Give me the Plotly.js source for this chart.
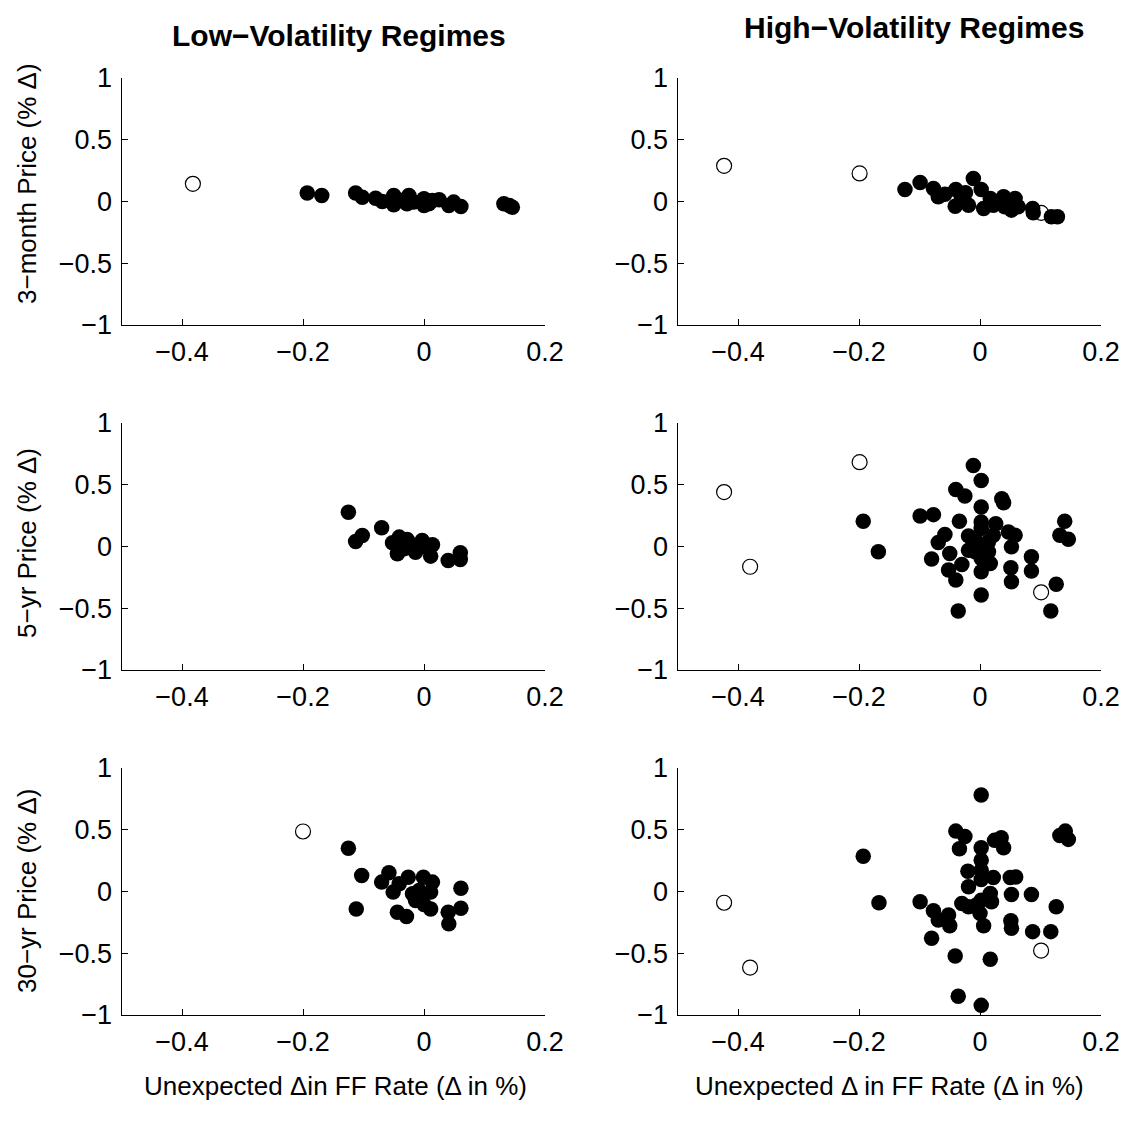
<!DOCTYPE html>
<html>
<head>
<meta charset="utf-8">
<script src="https://cdn.plot.ly/plotly-3.0.1.min.js"></script>
<style>html,body{margin:0;padding:0;background:#fff;}#chart{width:1127px;height:1121px;}</style>
</head>
<body>
<div id="chart"></div>
<script>
// ---------- data ----------
const columnTitles = ["Low\u2212Volatility Regimes", "High\u2212Volatility Regimes"];
const rowTitles = ["3\u2212month Price (% \u0394)", "5\u2212yr Price (% \u0394)", "30\u2212yr Price (% \u0394)"];
const xTitles = ["Unexpected \u0394in FF Rate (\u0394 in %)", "Unexpected \u0394 in FF Rate (\u0394 in %)"];
const xTickVals = [-0.4, -0.2, 0, 0.2];
const yTickVals = [-1, -0.5, 0, 0.5, 1];

// Low volatility, 3-month
const low3mOpenX = [-0.382];
const low3mOpenY = [0.143];
const low3mX = [-0.193, -0.169, -0.113, -0.102, -0.080, -0.069, -0.050, -0.050, -0.039, -0.025, -0.028, -0.017, 0.000, 0.000, 0.008, 0.014, 0.025, 0.041, 0.049, 0.061, 0.132, 0.141, 0.146];
const low3mY = [0.068, 0.049, 0.068, 0.035, 0.027, 0.000, 0.049, -0.027, 0.008, 0.049, -0.019, -0.005, 0.022, -0.032, -0.019, 0.008, 0.014, -0.032, -0.005, -0.041, -0.019, -0.032, -0.046];

// High volatility, 3-month
const high3mOpenX = [-0.423, -0.199, 0.101];
const high3mOpenY = [0.289, 0.227, -0.092];
const high3mX = [-0.124, -0.099, -0.077, -0.069, -0.058, -0.040, -0.041, -0.031, -0.024, -0.019, -0.011, 0.002, 0.006, 0.017, 0.022, 0.039, 0.041, 0.052, 0.058, 0.063, 0.087, 0.088, 0.118, 0.128];
const high3mY = [0.097, 0.154, 0.105, 0.038, 0.059, 0.097, -0.038, 0.038, 0.070, -0.030, 0.186, 0.097, -0.057, 0.024, -0.030, 0.038, -0.043, -0.070, 0.024, -0.043, -0.057, -0.092, -0.124, -0.124];

// Low volatility, 5-yr
const low5yOpenX = [];
const low5yOpenY = [];
const low5yX = [-0.125, -0.113, -0.102, -0.070, -0.052, -0.041, -0.044, -0.028, -0.033, -0.017, -0.014, -0.003, 0.003, 0.014, 0.011, 0.040, 0.060, 0.060];
const low5yY = [0.278, 0.041, 0.089, 0.151, 0.030, 0.076, -0.059, 0.057, -0.019, 0.008, -0.046, 0.049, -0.005, 0.014, -0.078, -0.114, -0.051, -0.105];

// High volatility, 5-yr
const high5yOpenX = [-0.423, -0.380, -0.199, 0.101];
const high5yOpenY = [0.441, -0.164, 0.683, -0.371];
const high5yX = [-0.193, -0.168, -0.099, -0.077, -0.069, -0.058, -0.080, -0.050, -0.052, -0.040, -0.036, -0.040, -0.025, -0.034, -0.030, -0.019, -0.019, -0.011, 0.002, 0.002, 0.002, 0.002, -0.006, -0.008, 0.002, 0.002, 0.002, 0.002, 0.014, 0.017, 0.022, 0.026, 0.014, 0.036, 0.039, 0.047, 0.058, 0.052, 0.051, 0.052, 0.085, 0.085, 0.126, 0.117, 0.140, 0.132, 0.146];
const high5yY = [0.204, -0.043, 0.247, 0.258, 0.032, 0.097, -0.102, -0.056, -0.191, -0.272, -0.522, 0.462, 0.409, 0.204, -0.145, 0.086, -0.030, 0.656, 0.535, 0.320, 0.199, 0.145, 0.038, -0.043, -0.003, -0.097, -0.204, -0.392, 0.038, -0.137, 0.091, 0.185, -0.043, 0.387, 0.355, 0.118, 0.091, -0.003, -0.172, -0.285, -0.083, -0.199, -0.306, -0.522, 0.204, 0.091, 0.059];

// Low volatility, 30-yr
const low30yOpenX = [-0.200];
const low30yOpenY = [0.486];
const low30yX = [-0.125, -0.103, -0.112, -0.070, -0.058, -0.051, -0.041, -0.044, -0.029, -0.026, -0.019, -0.014, -0.008, -0.001, 0.014, 0.011, 0.000, 0.011, 0.040, 0.041, 0.061, 0.061, -0.006];
const low30yY = [0.351, 0.130, -0.141, 0.076, 0.151, -0.005, 0.062, -0.168, -0.203, 0.116, -0.019, -0.073, 0.008, 0.116, 0.076, -0.005, -0.105, -0.141, -0.168, -0.262, 0.027, -0.135, -0.046];

// High volatility, 30-yr
const high30yOpenX = [-0.423, -0.380, 0.101];
const high30yOpenY = [-0.091, -0.616, -0.478];
const high30yX = [-0.193, -0.167, -0.099, -0.077, -0.069, -0.052, -0.050, -0.080, -0.040, -0.025, -0.034, -0.020, -0.019, -0.030, -0.019, -0.041, -0.036, 0.002, 0.002, 0.002, 0.002, 0.002, -0.006, 0.002, 0.000, 0.006, 0.017, 0.019, 0.002, 0.017, 0.022, 0.024, 0.035, 0.039, 0.050, 0.059, 0.052, 0.051, 0.052, 0.085, 0.087, 0.117, 0.126, 0.132, 0.141, 0.146];
const high30yY = [0.285, -0.091, -0.083, -0.156, -0.231, -0.191, -0.277, -0.379, 0.489, 0.446, 0.347, 0.164, 0.038, -0.097, -0.124, -0.522, -0.849, 0.782, 0.355, 0.253, 0.172, 0.097, -0.110, -0.070, -0.177, -0.277, -0.016, -0.083, -0.922, -0.548, 0.113, 0.414, 0.435, 0.355, 0.113, 0.118, -0.024, -0.237, -0.298, -0.024, -0.325, -0.325, -0.124, 0.454, 0.489, 0.422];

// ---------- construction ----------
const panels = [
  {open: [low3mOpenX, low3mOpenY], fill: [low3mX, low3mY]},
  {open: [high3mOpenX, high3mOpenY], fill: [high3mX, high3mY]},
  {open: [low5yOpenX, low5yOpenY], fill: [low5yX, low5yY]},
  {open: [high5yOpenX, high5yOpenY], fill: [high5yX, high5yY]},
  {open: [low30yOpenX, low30yOpenY], fill: [low30yX, low30yY]},
  {open: [high30yOpenX, high30yOpenY], fill: [high30yX, high30yY]}
];

const W = 1127, H = 1121;
const fx = px => px / W;
const fy = py => 1 - py / H;
const xDomains = [[fx(121.5), fx(545)], [fx(677.5), fx(1101)]];
const yDomains = [[fy(325), fy(78)], [fy(670), fy(423)], [fy(1015), fy(768)]];

const FONT = "Liberation Sans, Arial, Helvetica, sans-serif";
const traces = [];
const layout = {
  width: W, height: H,
  margin: {l: 0, r: 0, t: 0, b: 0},
  paper_bgcolor: "#ffffff",
  plot_bgcolor: "#ffffff",
  showlegend: false,
  font: {family: FONT, color: "#000000", size: 26},
  annotations: []
};

panels.forEach((p, i) => {
  const n = i + 1;
  const row = Math.floor(i / 2), col = i % 2;
  const xa = n === 1 ? "x" : "x" + n;
  const ya = n === 1 ? "y" : "y" + n;
  traces.push({
    type: "scatter", mode: "markers", x: p.open[0], y: p.open[1], xaxis: xa, yaxis: ya,
    marker: {symbol: "circle", size: 15, color: "#ffffff", line: {color: "#000000", width: 1.2}},
    hoverinfo: "x+y"
  });
  traces.push({
    type: "scatter", mode: "markers", x: p.fill[0], y: p.fill[1], xaxis: xa, yaxis: ya,
    marker: {symbol: "circle", size: 15.5, color: "#000000", line: {width: 0}},
    hoverinfo: "x+y"
  });
  const axisCommon = {
    showline: true, linecolor: "#000000", linewidth: 1, mirror: false,
    ticks: "inside", ticklen: 6, tickwidth: 1, tickcolor: "#000000",
    showgrid: false, zeroline: false, fixedrange: true,
    tickfont: {family: FONT, size: 27, color: "#000000"}
  };
  layout["xaxis" + (n === 1 ? "" : n)] = Object.assign({}, axisCommon, {
    domain: xDomains[col], range: [-0.5, 0.2], tickmode: "array", tickvals: xTickVals,
    ticktext: xTickVals.map(v => v === 0 ? "0" : (v < 0 ? "\u2212" : "") + Math.abs(v).toFixed(1)),
    anchor: ya, ticklabelstandoff: 3
  });
  layout["yaxis" + (n === 1 ? "" : n)] = Object.assign({}, axisCommon, {
    domain: yDomains[row], range: [-1, 1], tickmode: "array", tickvals: yTickVals,
    ticktext: yTickVals.map(v => v === 0 ? "0" : (v < 0 ? "\u2212" : "") + (Number.isInteger(v) ? Math.abs(v).toString() : Math.abs(v).toFixed(1))),
    anchor: xa, ticklabelstandoff: 3
  });
});

// column titles
layout.annotations.push({text: "<b>" + columnTitles[0] + "</b>", xref: "paper", yref: "paper",
  x: fx(338.5), y: fy(35), xanchor: "center", yanchor: "middle", showarrow: false,
  font: {family: FONT, size: 30, color: "#000000"}});
layout.annotations.push({text: "<b>" + columnTitles[1] + "</b>", xref: "paper", yref: "paper",
  x: fx(914), y: fy(27), xanchor: "center", yanchor: "middle", showarrow: false,
  font: {family: FONT, size: 30, color: "#000000"}});

// row titles (rotated)
const rowCenters = [184, 543, 891];
rowTitles.forEach((t, r) => {
  layout.annotations.push({text: t, xref: "paper", yref: "paper",
    x: fx(27), y: fy(rowCenters[r]), xanchor: "center", yanchor: "middle", textangle: -90,
    showarrow: false, font: {family: FONT, size: 26, color: "#000000"}});
});

// x titles
layout.annotations.push({text: xTitles[0], xref: "paper", yref: "paper",
  x: fx(335), y: fy(1086), xanchor: "center", yanchor: "middle", showarrow: false,
  font: {family: FONT, size: 26, color: "#000000"}});
layout.annotations.push({text: xTitles[1], xref: "paper", yref: "paper",
  x: fx(889), y: fy(1086), xanchor: "center", yanchor: "middle", showarrow: false,
  font: {family: FONT, size: 26, color: "#000000"}});

Plotly.newPlot("chart", traces, layout, {staticPlot: true, displayModeBar: false});
</script>
</body>
</html>
